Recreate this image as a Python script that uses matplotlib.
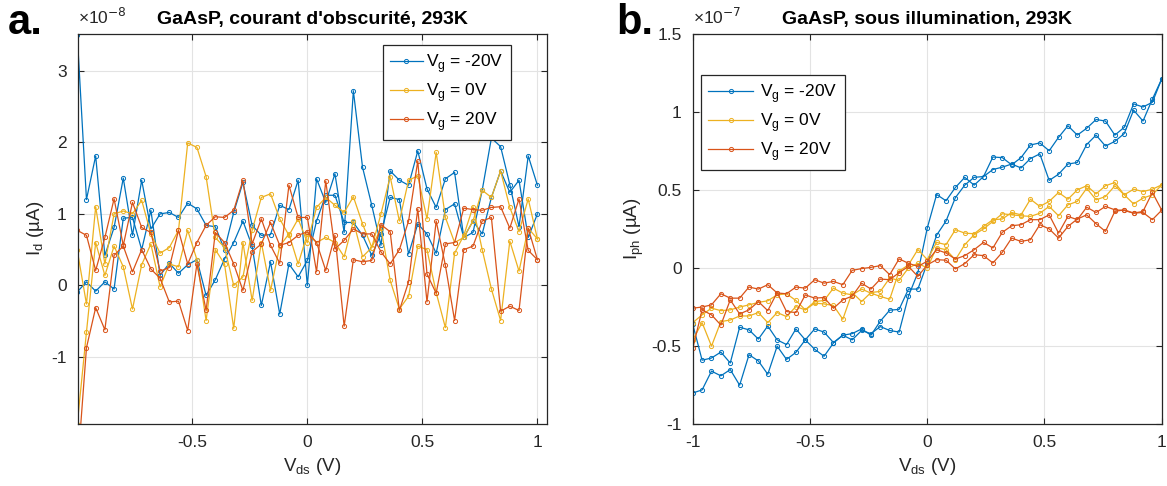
import numpy as np
import matplotlib
matplotlib.use("Agg")
import matplotlib.pyplot as plt
from matplotlib.ticker import FuncFormatter

plt.rcParams['font.family'] = ['Liberation Sans', 'DejaVu Sans']
plt.rcParams['axes.unicode_minus'] = False

# sweep grid of V_ds (V), 0.04 V steps
vds = np.linspace(-1, 1, 51)

labels = ['V$_\\mathregular{g}$ = -20V', 'V$_\\mathregular{g}$ = 0V', 'V$_\\mathregular{g}$ = 20V']
colors = ['#0072BD', '#EDB120', '#D95319']

# panel a: dark current, units of 1e-8
dark_m20_a = [3.5, 1.2, 1.81, 0.42, 0.81, 1.5, 0.7, 1.47, 0.79, 1.0, 1.02, 0.95, 1.15, 1.07, 0.84, 0.82, 0.5,
              1.02, 1.44, 0.84, 0.7, 0.71, 1.12, 1.06, 1.47, 0.0, 1.49, 1.16, 1.56, 0.74, 2.72, 1.65, 1.12,
              0.56, 1.6, 1.47, 1.4, 1.88, 1.35, 1.09, 1.49, 1.58, 0.67, 0.74, 1.33, 2.06, 1.94, 1.41, 0.82,
              1.81, 1.4]
dark_m20_b = [-0.09, 0.05, -0.08, 0.05, -0.05, 0.94, 0.95, 0.5, 1.05, 0.14, 0.31, 0.17, 0.29, 0.36, -0.14,
              0.08, 0.37, 0.6, 0.9, 0.55, -0.28, 0.33, -0.4, 0.3, 0.12, 0.35, 0.9, 1.26, 1.26, 0.88, 0.88,
              0.7, 0.42, 0.72, 1.23, 1.2, 0.44, 0.86, 0.72, 0.45, 1.06, 1.14, 0.67, 0.9, 0.72, 1.23, 1.6,
              1.3, 1.47, 0.67, 1.0]
dark_0_a = [0.49, -0.26, 1.1, 0.3, 1.0, 1.04, 1.0, 1.19, 0.72, 0.45, 0.53, 0.77, 1.99, 1.93, 1.52, 0.67, 0.53,
            0.0, 0.12, 0.77, 1.23, 1.28, 0.93, 0.7, 0.93, 0.6, 1.09, 1.23, 1.12, 1.02, 1.24, 0.86, 0.53, 1.0,
            1.52, 0.9, 1.47, 1.53, 0.93, 1.86, 0.95, 0.6, 0.67, 0.9, 1.33, 1.23, 1.6, 1.09, 0.75, 1.21, 0.65]
dark_0_b = [-1.94, -0.65, 0.6, 0.14, 0.55, 0.26, -0.33, 0.29, 0.58, -0.02, 0.3, 0.26, 0.77, 0.36, -0.49, 0.5,
            0.3, -0.6, 0.6, -0.21, 0.6, -0.07, 0.55, 0.72, 0.3, 0.72, 0.6, 0.67, 0.6, 0.4, 0.9, 0.4, 0.53,
            0.8, 0.07, -0.33, -0.15, 0.55, 0.5, -0.1, -0.59, 0.45, 0.7, 1.1, 0.5, -0.05, -0.49, 0.62, 0.2,
            0.8, 0.65]
dark_p20_a = [0.77, 0.7, 0.21, 0.67, 1.21, 0.56, 1.16, 0.81, 0.74, 0.2, 0.25, 0.77, 0.3, 0.6, 0.84, 0.96, 0.95,
              1.05, 1.47, 0.58, 0.93, 0.56, 0.31, 1.4, 0.95, 0.95, 0.19, 1.46, 0.51, 0.63, 0.79, 0.72, 0.72,
              0.47, 0.3, 0.5, 0.9, 1.74, 0.16, -0.11, 0.58, 0.6, 1.08, 1.06, 1.05, 1.09, 1.1, 0.8, 1.21,
              0.49, 0.36]
dark_p20_b = [-2.6, -0.87, -0.31, -0.62, 0.42, 0.55, 0.19, 0.5, 0.23, 0.1, -0.23, -0.22, -0.63, 0.3, -0.35,
              0.74, 0.6, 0.3, -0.07, 0.47, 0.58, 0.88, 0.56, 0.6, 0.7, 0.75, 0.6, 0.21, 0.7, -0.57, 0.36,
              0.33, 0.35, 0.85, 0.75, -0.35, 0.05, 1.07, -0.23, 0.9, 0.28, -0.49, 0.5, 0.55, 0.9, 0.95,
              -0.36, -0.29, -0.35, 0.8, 0.36]

# panel b: photocurrent, units of 1e-7
ph_m20_a = [-0.80, -0.78, -0.66, -0.69, -0.65, -0.75, -0.555, -0.595, -0.68, -0.50, -0.585, -0.54, -0.46,
            -0.52, -0.565, -0.48, -0.43, -0.42, -0.39, -0.43, -0.34, -0.27, -0.265, -0.135, -0.135, 0.03,
            0.21, 0.30, 0.45, 0.53, 0.58, 0.585, 0.63, 0.645, 0.665, 0.64, 0.70, 0.73, 0.56, 0.60, 0.665,
            0.675, 0.79, 0.85, 0.78, 0.81, 0.86, 1.01, 0.94, 1.08, 1.21]
ph_m20_b = [-0.36, -0.59, -0.576, -0.538, -0.608, -0.379, -0.396, -0.455, -0.371, -0.46, -0.49, -0.39, -0.46,
            -0.39, -0.41, -0.477, -0.43, -0.46, -0.40, -0.42, -0.375, -0.40, -0.41, -0.18, -0.03, 0.255,
            0.47, 0.43, 0.515, 0.58, 0.53, 0.585, 0.71, 0.706, 0.66, 0.706, 0.787, 0.80, 0.75, 0.836, 0.91,
            0.85, 0.894, 0.95, 0.94, 0.85, 0.90, 1.05, 1.03, 1.06, 1.21]
ph_0_a = [-0.35, -0.30, -0.257, -0.273, -0.268, -0.25, -0.236, -0.22, -0.21, -0.172, -0.165, -0.208, -0.268,
          -0.215, -0.208, -0.129, -0.161, -0.172, -0.135, -0.161, -0.182, -0.20, -0.02, 0.02, 0.118, 0.054,
          0.164, 0.149, 0.245, 0.223, 0.219, 0.266, 0.309, 0.313, 0.355, 0.34, 0.44, 0.394, 0.426, 0.483,
          0.44, 0.50, 0.526, 0.474, 0.526, 0.547, 0.468, 0.504, 0.489, 0.504, 0.532]
ph_0_b = [-0.46, -0.35, -0.50, -0.343, -0.333, -0.307, -0.307, -0.285, -0.35, -0.285, -0.311, -0.247, -0.268,
          -0.225, -0.23, -0.24, -0.328, -0.157, -0.215, -0.157, -0.15, -0.064, -0.08, 0.0, 0.03, 0.0,
          0.13, 0.117, 0.053, 0.149, 0.213, 0.25, 0.298, 0.347, 0.34, 0.334, 0.33, 0.35, 0.394, 0.334,
          0.404, 0.426, 0.51, 0.436, 0.457, 0.526, 0.468, 0.41, 0.447, 0.468, 0.532]
ph_p20_a = [-0.257, -0.25, -0.236, -0.165, -0.193, -0.193, -0.122, -0.135, -0.107, -0.16, -0.165, -0.122,
            -0.129, -0.075, -0.097, -0.086, -0.107, -0.015, -0.004, 0.004, 0.015, -0.043, 0.058, 0.03, 0.01,
            0.043, 0.117, 0.096, 0.057, 0.079, 0.117, 0.164, 0.128, 0.228, 0.27, 0.277, 0.309, 0.309, 0.34,
            0.223, 0.33, 0.309, 0.389, 0.355, 0.394, 0.372, 0.368, 0.351, 0.362, 0.483, 0.37]
ph_p20_b = [-0.515, -0.268, -0.30, -0.365, -0.204, -0.294, -0.268, -0.215, -0.273, -0.157, -0.279, -0.285,
            -0.172, -0.193, -0.189, -0.258, -0.204, -0.18, -0.097, -0.135, -0.071, -0.075, -0.03, 0.01,
            -0.054, 0.02, 0.053, 0.05, -0.006, 0.028, 0.085, 0.079, 0.032, 0.1, 0.191, 0.17, 0.181, 0.277,
            0.25, 0.191, 0.266, 0.313, 0.34, 0.283, 0.234, 0.362, 0.372, 0.351, 0.355, 0.309, 0.37]

dark = [(dark_m20_a, dark_m20_b), (dark_0_a, dark_0_b), (dark_p20_a, dark_p20_b)]
photo = [(ph_m20_a, ph_m20_b), (ph_0_a, ph_0_b), (ph_p20_a, ph_p20_b)]

fig = plt.figure(figsize=(11.67, 4.86), dpi=100)
ax1 = fig.add_axes([0.0668, 0.127, 0.4016, 0.804])
ax2 = fig.add_axes([0.5936, 0.127, 0.4019, 0.804])

tick_col = '#262626'
fmt = FuncFormatter(lambda v, p: '%g' % round(v, 6))

def draw(ax, data):
    for (ya, yb), c, lab in zip(data, colors, labels):
        kw = dict(color=c, lw=0.9, marker='o', ms=3.0, mfc='none', mew=0.7)
        ax.plot(vds, ya, label=lab, **kw)
        ax.plot(vds, yb, **kw)
    ax.grid(True, color='#e3e3e3', lw=0.8)
    ax.set_axisbelow(True)
    ax.tick_params(direction='in', top=True, right=True, length=4, labelsize=12.5,
                   colors=tick_col, pad=8)
    for s in ax.spines.values():
        s.set_color(tick_col)
        s.set_linewidth(0.9)
    ax.xaxis.set_major_formatter(fmt)
    ax.yaxis.set_major_formatter(fmt)
    ax.set_xlabel('V$_\\mathregular{ds}$ (V)', fontsize=13.5, color=tick_col)

draw(ax1, dark)
ax1.set_xlim(-0.997, 1.04)
ax1.set_ylim(-1.94, 3.52)
ax1.set_xticks([-0.5, 0, 0.5, 1])
ax1.set_yticks([-1, 0, 1, 2, 3])
ax1.set_ylabel('I$_\\mathregular{d}$ (µA)', fontsize=13.5, color=tick_col)
ax1.set_title("GaAsP, courant d'obscurité, 293K", fontsize=14, fontweight='bold', pad=7)

draw(ax2, photo)
ax2.set_xlim(-1, 1)
ax2.set_ylim(-1, 1.5)
ax2.set_xticks([-1, -0.5, 0, 0.5, 1])
ax2.set_yticks([-1, -0.5, 0, 0.5, 1, 1.5])
ax2.set_ylabel('I$_\\mathregular{ph}$ (µA)', fontsize=13.5, color=tick_col)
ax2.set_title('GaAsP, sous illumination, 293K', fontsize=14, fontweight='bold', pad=7)

for ax, anchor, hl, tp in [(ax1, (0.328, 0.907), 1.9, 0.2), (ax2, (0.601, 0.846), 2.6, 0.4)]:
    leg = ax.legend(loc='upper left', bbox_to_anchor=anchor, bbox_transform=fig.transFigure,
                    fontsize=12.5, fancybox=False, framealpha=1, edgecolor='#262626',
                    handlelength=hl, handletextpad=tp, labelspacing=0.35, borderpad=0.4,
                    borderaxespad=0)
    leg.get_frame().set_linewidth(0.9)

fig.text(0.0668, 0.945, '×10$^{-8}$', fontsize=12.5, color=tick_col, ha='left', va='bottom')
fig.text(0.5936, 0.945, '×10$^{-7}$', fontsize=12.5, color=tick_col, ha='left', va='bottom')
fig.text(0.007, 0.952, 'a.', fontsize=30, fontweight='bold', ha='left', va='center')
fig.text(0.528, 0.952, 'b.', fontsize=30, fontweight='bold', ha='left', va='center')

fig.savefig('out.png', dpi=100)
